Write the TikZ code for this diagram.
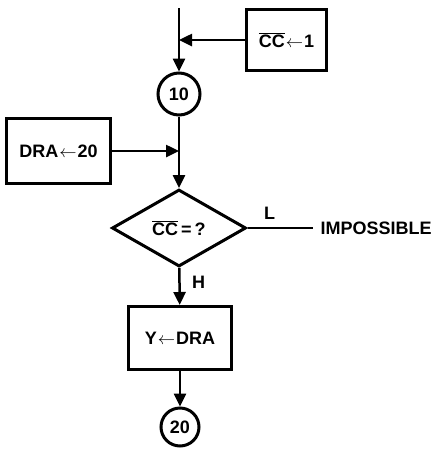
\documentclass[tikz,border=0pt]{standalone}
\usepackage{fontspec}
\setmainfont{Liberation Sans}
\usetikzlibrary{arrows.meta,positioning,shapes.geometric}

\begin{document}
\begin{tikzpicture}[x=1pt, y=-1pt, >={Triangle[length=13pt,width=12pt]},
  every node/.style={font=\bfseries\fontsize{18}{20}\selectfont},
  flow/.style={line width=2.5pt},
  box/.style={draw, line width=3pt, inner sep=2pt},
  conn/.style={draw, circle, line width=3pt, inner sep=0pt},
  decision/.style={draw, diamond, line width=3pt, inner sep=0pt, minimum width=134pt, minimum height=77pt}]
\useasboundingbox (0,0) rectangle (435,451);
\coordinate (top) at (179,8);
\node[box, minimum width=80pt, minimum height=61pt] (ccdec) at (286.5,40) {$\overline{\mbox{CC}}$\kern1pt$\leftarrow$\kern1pt1};
\node[conn, minimum size=42pt] (n10) at (179,94) {10};
\node[box, minimum width=104pt, minimum height=65pt] (dra20) at (58.5,151) {DRA\kern1pt$\leftarrow$\kern1pt20};
\node[decision] (test) at (179,228) {$\overline{\mbox{CC}}$\,=\,?};
\node[inner xsep=8pt, right=65pt of test] (impossible) {IMPOSSIBLE};
\node[box, minimum width=103pt, minimum height=63pt] (ydra) at (180,338) {Y\kern1pt$\leftarrow$\kern1ptDRA};
\node[conn, minimum size=38pt] (n20) at (180,427) {20};
\coordinate (j1) at (top |- ccdec);
\coordinate (j2) at (top |- dra20);
\draw[flow,->] (top) -- (n10);
\draw[flow,->] (ccdec) -- (j1);
\draw[flow,->] (n10) -- (test);
\draw[flow,->] (dra20) -- (j2);
\draw[flow] (test) -- node[pos=0.34, above=4pt] {L} (impossible);
\draw[flow,->] (test) -- node[pos=0.4, right=8pt] {H} (ydra);
\draw[flow,->] (ydra) -- (n20);
\end{tikzpicture}
\end{document}
